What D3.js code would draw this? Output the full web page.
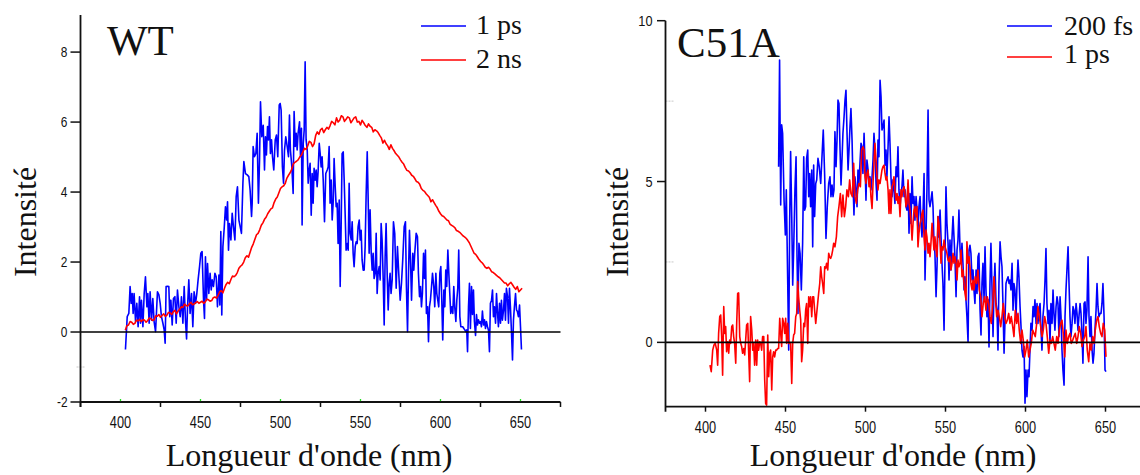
<!DOCTYPE html>
<html><head><meta charset="utf-8">
<script src="https://cdn.jsdelivr.net/npm/d3@7"></script>
<style>
html,body{margin:0;padding:0;background:#fff;}
svg{display:block;}
</style></head>
<body>
<script>
// ---------------- DATA ----------------
const xTicks = [400, 450, 500, 550, 600, 650];
const xMinorTicksWT = [375, 425, 475, 525, 575, 625, 675];
const yTicksWT = [-2, 0, 2, 4, 6, 8];
const yTicksC51A = [0, 5, 10];
const labelsWT = ["1 ps", "2 ns"];
const labelsC51A = ["200 fs", "1 ps"];
const xTitle = "Longueur d'onde (nm)";
const yTitle = "Intensité";

// WT, 1 ps  [wavelength nm, intensity]
const wt1ps = [[403.1,-0.50],[404.2,0.44],[405.2,0.53],[406.0,1.30],[406.7,0.82],[407.3,1.10],[407.9,0.53],[408.5,1.10],[409.4,0.30],[410.2,0.82],[411.0,0.15],[411.9,1.01],[412.5,0.25],[413.1,0.91],[414.0,0.15],[414.8,1.10],[415.6,1.58],[416.5,0.72],[417.1,1.10],[417.9,0.25],[418.5,1.15],[419.4,0.34],[420.2,0.96],[421.0,0.30],[421.9,0.01],[423.1,1.15],[424.0,1.06],[424.8,0.82],[425.6,0.44],[426.5,0.25],[427.3,0.06],[427.9,-0.32],[428.5,1.30],[429.4,1.31],[430.2,1.30],[430.8,0.44],[431.5,0.91],[432.3,0.20],[433.1,0.96],[434.0,1.01],[434.8,0.25],[435.6,1.20],[436.5,0.72],[437.3,0.44],[438.1,1.01],[439.0,0.25],[439.8,1.30],[440.6,0.34],[441.3,-0.20],[441.9,0.72],[442.7,1.49],[443.5,0.53],[444.4,1.10],[445.2,0.15],[446.0,1.15],[446.9,0.82],[447.7,1.10],[448.5,1.49],[449.4,1.87],[450.2,2.25],[451.0,2.30],[451.9,0.91],[452.5,0.39],[453.1,2.15],[453.8,0.91],[454.4,1.96],[455.2,1.10],[456.0,1.68],[456.7,1.20],[457.3,1.49],[458.1,1.30],[459.0,1.68],[459.8,1.58],[460.6,0.72],[461.5,1.63],[462.1,0.77],[462.7,2.87],[463.3,0.49],[464.0,2.44],[464.8,2.96],[465.6,3.58],[466.3,3.20],[466.9,3.72],[467.5,2.34],[468.1,3.10],[469.0,2.63],[469.8,3.39],[470.6,3.01],[471.5,2.63],[472.3,3.87],[473.1,4.15],[474.0,3.20],[474.8,3.01],[475.6,2.82],[476.5,4.25],[477.1,4.87],[478.1,4.53],[479.2,4.49],[480.2,4.44],[481.0,4.06],[481.9,3.30],[482.3,3.68],[482.9,5.30],[483.7,5.01],[484.6,5.10],[485.4,5.68],[486.2,3.68],[486.9,4.91],[487.5,6.58],[488.3,5.58],[489.2,5.91],[490.0,4.63],[490.6,5.58],[491.2,5.06],[491.9,5.87],[492.5,5.49],[493.1,6.15],[493.7,5.10],[494.4,5.49],[495.0,5.01],[495.8,4.63],[496.7,5.49],[497.5,5.63],[498.3,5.01],[499.2,6.49],[499.8,6.53],[500.4,6.34],[501.2,4.72],[501.9,4.25],[502.5,5.20],[503.3,5.58],[504.2,5.30],[505.0,5.01],[505.6,6.20],[506.2,5.20],[507.1,4.72],[507.9,3.96],[508.5,6.30],[509.2,5.30],[509.8,5.68],[510.4,5.20],[511.0,5.68],[511.9,6.01],[512.5,5.01],[513.1,5.82],[513.5,3.06],[514.2,5.39],[514.8,5.77],[515.4,7.72],[516.0,5.49],[516.7,5.20],[517.3,4.25],[517.9,4.63],[518.5,4.82],[519.2,3.34],[519.8,4.53],[520.4,3.68],[521.0,4.68],[521.7,4.34],[522.3,4.63],[522.9,4.15],[523.5,4.58],[524.2,5.39],[524.8,5.10],[525.4,4.72],[526.0,5.01],[526.7,4.34],[527.5,3.15],[528.3,4.53],[529.2,4.63],[529.8,4.72],[530.4,5.30],[531.0,3.68],[531.7,4.34],[532.3,3.20],[533.0,3.77],[533.5,4.96],[534.2,4.15],[534.8,3.58],[535.4,3.68],[536.0,2.53],[536.7,3.77],[537.3,1.30],[537.9,3.01],[538.5,5.10],[539.2,5.15],[539.8,4.34],[540.4,3.39],[541.0,2.34],[541.7,2.53],[542.3,2.34],[542.9,4.25],[543.5,2.82],[544.2,2.63],[544.8,3.15],[545.4,2.25],[546.0,1.87],[546.7,2.44],[547.3,2.58],[547.9,2.53],[548.5,3.01],[549.2,3.20],[549.8,2.63],[550.4,2.91],[551.0,2.06],[551.7,1.77],[552.3,1.77],[552.9,2.44],[553.5,3.87],[554.2,5.15],[554.8,3.77],[555.4,2.25],[556.0,3.49],[556.7,2.25],[557.3,1.77],[557.9,2.25],[558.5,1.53],[559.2,1.68],[559.8,2.82],[560.4,1.10],[561.0,1.68],[561.7,1.87],[562.3,1.49],[562.9,3.10],[563.5,2.63],[564.2,1.49],[564.8,0.20],[565.4,2.15],[566.0,3.10],[566.7,1.60],[567.3,0.63],[567.9,1.39],[568.5,1.68],[569.1,1.10],[569.8,1.49],[570.6,3.15],[571.4,2.82],[572.3,1.25],[573.1,2.44],[573.9,1.68],[574.8,0.91],[575.6,1.39],[576.4,2.06],[577.3,3.01],[578.1,3.15],[578.7,1.30],[579.4,0.01],[580.0,1.68],[580.6,2.91],[581.2,2.15],[581.9,0.91],[582.7,2.25],[583.3,1.77],[583.9,2.25],[584.8,2.82],[585.6,2.72],[586.2,1.68],[586.9,1.01],[587.5,1.30],[588.1,0.72],[588.7,1.10],[589.4,2.25],[590.0,1.53],[590.6,2.34],[591.2,0.53],[591.9,0.72],[592.5,-0.28],[593.1,0.72],[593.7,0.91],[594.4,1.30],[595.0,1.68],[595.8,1.30],[596.4,0.72],[597.1,1.68],[597.7,1.10],[598.3,0.91],[598.9,0.72],[599.6,1.68],[600.2,1.87],[600.8,0.91],[601.4,-0.23],[602.1,1.20],[602.7,0.72],[603.3,1.77],[603.9,1.30],[604.6,2.34],[605.2,1.68],[605.8,1.10],[606.4,0.53],[607.1,0.72],[607.7,0.53],[608.3,1.30],[608.9,0.72],[609.6,0.30],[610.2,0.91],[610.8,1.25],[611.4,2.34],[612.1,0.44],[612.7,0.15],[613.3,0.15],[613.9,0.15],[614.6,0.10],[615.2,0.06],[615.8,0.01],[616.4,0.06],[616.9,-0.56],[617.5,0.72],[618.1,1.39],[618.7,0.10],[619.4,1.30],[620.0,0.50],[620.6,1.20],[621.2,0.30],[621.9,-0.10],[622.5,0.50],[623.1,0.20],[623.7,0.35],[624.4,0.25],[625.0,0.30],[625.6,0.15],[626.2,0.60],[626.9,0.20],[627.5,0.35],[628.1,0.10],[628.7,0.30],[629.4,0.15],[630.0,0.05],[630.6,-0.56],[631.2,0.82],[631.9,0.91],[632.5,1.20],[633.1,0.44],[633.7,0.72],[634.4,0.25],[635.0,1.10],[635.6,0.58],[636.2,0.15],[636.9,0.82],[637.5,0.25],[638.1,0.91],[638.7,0.34],[639.4,0.63],[640.0,1.10],[640.6,0.34],[641.2,1.25],[641.9,1.01],[642.5,0.25],[643.1,1.25],[643.7,0.72],[644.4,-0.04],[645.0,-0.80],[645.6,0.34],[646.2,0.72],[646.9,1.10],[647.5,0.63],[648.1,0.58],[648.7,0.44],[649.4,0.77],[650.0,0.15],[650.6,-0.50]];

// WT, 2 ns
const wt2ns = [[403,0.05],[404,0.18],[405,0.20],[406,0.30],[407,0.28],[408,0.22],[409,0.25],[410,0.34],[411,0.32],[412,0.36],[413,0.30],[414,0.35],[415,0.34],[416,0.28],[417,0.33],[418,0.40],[419,0.38],[420,0.33],[421,0.35],[422,0.46],[423,0.45],[424,0.50],[425,0.42],[426,0.47],[427,0.52],[428,0.45],[429,0.48],[430,0.56],[431,0.55],[432,0.50],[433,0.58],[434,0.62],[435,0.52],[436,0.60],[437,0.65],[438,0.72],[439,0.70],[440,0.80],[441,0.76],[442,0.74],[443,0.80],[444,0.85],[445,0.78],[446,0.80],[447,0.84],[448,0.87],[449,0.82],[450,0.85],[451,0.88],[452,0.82],[453,0.86],[454,0.94],[455,0.92],[456,0.88],[457,0.90],[458,0.98],[459,1.00],[460,0.97],[461,1.05],[462,1.15],[463,1.18],[464,1.12],[465,1.25],[466,1.36],[467,1.42],[468,1.38],[469,1.50],[470,1.60],[471,1.58],[472,1.62],[473,1.70],[474,1.82],[475,1.88],[476,1.92],[477,2.00],[478,2.12],[479,2.18],[480,2.14],[481,2.28],[482,2.42],[483,2.52],[484,2.65],[485,2.78],[486,2.82],[487,2.92],[488,3.05],[489,3.12],[490,3.22],[491,3.28],[492,3.38],[493,3.45],[494,3.52],[495,3.55],[496,3.70],[497,3.80],[498,3.86],[499,3.98],[500,4.10],[501,4.15],[502,4.18],[503,4.25],[504,4.40],[505,4.48],[506,4.55],[507,4.65],[508,4.80],[509,4.85],[510,4.88],[511,4.92],[512,5.00],[513,5.05],[514,5.15],[515,5.25],[516,5.22],[517,5.32],[518,5.45],[519,5.42],[520,5.30],[521,5.38],[522,5.62],[523,5.72],[524,5.65],[525,5.78],[526,5.82],[527,5.70],[528,5.78],[529,5.85],[530,5.80],[531,5.90],[532,6.02],[533,5.98],[534,5.92],[535,6.12],[536,6.00],[537,6.05],[538,6.18],[539,6.15],[540,6.02],[541,6.08],[542,6.15],[543,6.12],[544,5.98],[545,6.05],[546,6.12],[547,6.15],[548,6.00],[549,6.02],[550,5.92],[551,6.05],[552,5.98],[553,5.90],[554,5.85],[555,5.95],[556,5.88],[557,5.85],[558,5.72],[559,5.78],[560,5.75],[561,5.70],[562,5.62],[563,5.55],[564,5.40],[565,5.48],[566,5.38],[567,5.32],[568,5.22],[569,5.35],[570,5.25],[571,5.18],[572,5.10],[573,5.05],[574,5.00],[575,4.92],[576,4.85],[577,4.80],[578,4.70],[579,4.62],[580,4.60],[581,4.55],[582,4.48],[583,4.45],[584,4.38],[585,4.30],[586,4.28],[587,4.22],[588,4.10],[589,4.05],[590,4.02],[591,3.95],[592,3.90],[593,3.85],[594,3.72],[595,3.78],[596,3.70],[597,3.62],[598,3.55],[599,3.45],[600,3.38],[601,3.32],[602,3.30],[603,3.25],[604,3.20],[605,3.18],[606,3.08],[607,3.05],[608,3.02],[609,2.98],[610,2.90],[611,2.88],[612,2.85],[613,2.80],[614,2.75],[615,2.72],[616,2.68],[617,2.62],[618,2.55],[619,2.45],[620,2.35],[621,2.25],[622,2.22],[623,2.15],[624,2.08],[625,2.02],[626,1.98],[627,1.92],[628,1.85],[629,1.82],[630,1.85],[631,1.80],[632,1.72],[633,1.70],[634,1.66],[635,1.62],[636,1.58],[637,1.55],[638,1.50],[639,1.45],[640,1.40],[641,1.40],[642,1.32],[643,1.38],[644,1.42],[645,1.35],[646,1.28],[647,1.22],[648,1.30],[649,1.15],[650,1.20],[651,1.25]];

// C51A, 200 fs
const c51a200fs = [[445.7,5.46],[446.3,8.78],[447.0,4.27],[447.6,6.76],[448.2,6.50],[449.1,4.42],[449.9,3.34],[450.5,4.74],[451.4,1.83],[452.0,-0.24],[452.6,3.70],[453.2,5.93],[453.9,3.91],[454.5,1.78],[455.1,2.87],[455.9,4.74],[456.6,5.77],[457.2,2.66],[457.8,0.90],[458.4,3.08],[459.1,2.77],[459.9,1.63],[460.7,3.08],[461.4,5.77],[462.0,4.11],[462.6,4.22],[463.2,5.72],[463.9,5.98],[464.5,4.53],[465.1,5.25],[465.7,4.22],[466.4,5.36],[467.0,2.97],[467.6,5.51],[468.2,3.91],[468.9,4.94],[469.5,5.05],[470.3,5.72],[471.1,5.46],[472.0,4.94],[472.8,5.77],[473.6,6.60],[474.5,5.15],[475.3,3.23],[476.1,4.22],[477.0,4.94],[477.8,5.15],[478.4,4.53],[479.1,4.89],[479.7,4.53],[480.3,4.74],[480.9,6.55],[481.6,5.46],[482.2,6.29],[482.8,7.53],[483.4,7.43],[484.1,5.98],[484.7,4.89],[485.3,5.67],[485.9,6.50],[486.6,7.01],[487.2,7.53],[487.8,7.84],[488.4,6.60],[489.1,5.36],[489.7,5.98],[490.3,6.70],[490.9,7.27],[491.6,6.29],[492.2,4.94],[492.8,3.96],[493.4,5.15],[494.1,4.74],[494.7,4.22],[495.3,5.36],[495.9,4.94],[496.6,5.63],[497.2,6.19],[497.8,6.08],[498.4,5.25],[499.1,6.50],[499.7,5.57],[500.3,4.42],[500.9,5.67],[501.6,5.36],[502.2,4.94],[502.8,5.15],[503.4,4.74],[504.1,5.15],[504.7,5.67],[505.3,6.50],[505.9,5.98],[506.6,4.94],[507.2,4.42],[507.8,6.29],[508.4,5.77],[509.1,8.15],[509.7,7.64],[510.3,6.60],[510.9,6.70],[511.6,6.91],[512.2,5.51],[512.8,5.98],[513.4,5.15],[514.1,6.08],[514.7,7.01],[515.3,6.19],[515.9,5.15],[516.6,4.53],[517.2,5.05],[517.8,4.74],[518.4,4.32],[519.1,5.46],[519.7,5.15],[520.3,6.08],[520.9,4.74],[521.6,4.22],[522.2,4.63],[522.8,4.84],[523.4,5.36],[524.1,4.53],[524.7,4.74],[525.3,4.22],[525.9,4.11],[526.6,4.94],[527.2,3.39],[527.8,4.63],[528.4,3.70],[529.1,5.15],[529.7,4.32],[530.3,4.53],[530.9,3.80],[531.6,4.53],[532.2,4.11],[532.8,3.49],[533.4,4.22],[534.1,4.53],[534.7,3.70],[535.3,3.28],[535.9,3.91],[536.6,5.25],[537.2,1.94],[537.8,3.28],[538.4,4.74],[539.1,7.22],[539.7,4.42],[540.3,4.22],[540.9,4.42],[541.6,4.68],[542.2,4.22],[542.8,3.08],[543.4,2.77],[544.1,1.42],[544.7,2.35],[545.3,3.91],[545.9,3.28],[546.6,4.11],[547.2,3.28],[547.8,2.46],[548.4,1.83],[549.1,0.38],[549.7,2.66],[550.3,4.84],[550.9,3.70],[551.6,3.08],[552.2,1.94],[552.8,3.18],[553.4,2.25],[554.1,3.28],[554.7,3.91],[555.3,3.28],[555.9,2.66],[556.6,1.42],[557.2,2.87],[557.8,3.18],[558.4,4.11],[559.1,2.87],[559.7,2.46],[560.3,3.08],[560.9,2.46],[561.6,1.63],[562.2,2.04],[562.8,1.32],[563.4,0.80],[564.1,0.01],[564.7,2.87],[565.3,3.02],[565.9,2.77],[566.6,1.94],[567.2,2.25],[567.8,1.63],[568.4,1.21],[569.1,2.25],[569.7,1.52],[570.3,2.66],[570.9,2.77],[571.6,1.00],[572.2,0.23],[572.8,1.83],[573.4,2.46],[574.1,1.32],[574.7,2.97],[575.3,1.63],[575.9,0.80],[576.6,1.32],[577.2,-0.14],[577.8,1.83],[578.4,3.08],[579.1,1.63],[579.7,0.18],[580.3,1.63],[580.9,2.46],[581.6,1.21],[582.2,1.00],[582.8,-0.24],[583.4,1.83],[584.1,3.13],[584.7,2.66],[585.3,2.35],[585.9,1.21],[586.6,-0.34],[587.2,0.69],[587.8,1.83],[588.4,1.94],[589.1,2.04],[589.7,1.83],[590.3,1.94],[590.9,1.63],[591.6,2.46],[592.2,1.00],[592.8,1.83],[593.4,1.63],[594.1,0.80],[594.7,1.83],[595.3,2.56],[595.9,2.04],[596.6,1.11],[597.2,0.49],[597.8,-0.24],[598.4,-0.45],[599.1,-0.13],[599.7,-1.89],[600.3,-0.86],[600.9,-1.69],[601.6,-0.86],[602.2,-1.07],[602.8,-0.24],[603.4,0.59],[604.1,0.38],[604.7,1.11],[605.3,0.80],[605.9,1.32],[606.6,0.59],[607.2,1.21],[607.8,0.59],[608.4,1.00],[609.1,1.21],[609.7,0.38],[610.3,-0.24],[610.9,0.80],[611.6,1.21],[612.2,1.94],[612.8,2.92],[613.4,1.21],[614.1,0.59],[614.7,1.00],[615.3,-0.03],[615.9,1.21],[616.6,0.59],[617.2,1.63],[617.8,0.90],[618.4,0.38],[619.1,1.11],[619.7,1.42],[620.3,1.21],[620.9,0.18],[621.6,1.42],[622.2,0.80],[622.8,-0.24],[623.4,-0.86],[624.1,-1.33],[624.7,0.80],[625.3,1.63],[625.9,2.25],[626.6,2.97],[627.2,1.83],[627.8,0.80],[628.4,0.18],[629.1,0.59],[629.7,1.11],[630.3,1.00],[630.9,0.59],[631.6,1.21],[632.2,0.90],[632.8,0.38],[633.4,0.80],[634.1,1.21],[634.7,0.90],[635.3,0.28],[635.9,-0.65],[636.6,1.21],[637.2,1.26],[637.8,0.59],[638.4,1.00],[639.1,2.66],[639.7,0.80],[640.3,0.18],[640.9,0.80],[641.6,-0.24],[642.2,-0.65],[642.8,-0.34],[643.4,0.38],[644.1,1.00],[644.7,1.83],[645.3,1.11],[645.9,0.80],[646.6,0.90],[647.2,0.90],[647.8,1.21],[648.4,1.83],[649.1,0.80],[649.7,-0.86],[650.3,-0.91]];

// C51A, 1 ps
const c51a1ps = [[402.8,-0.71],[403.6,-0.91],[404.5,-0.24],[405.3,-0.08],[406.1,-0.03],[407.0,-0.24],[407.6,-0.71],[408.2,0.28],[408.9,0.80],[409.5,0.85],[410.1,0.18],[410.7,-1.02],[411.4,1.11],[412.0,0.28],[412.6,0.49],[413.2,-0.29],[413.9,0.02],[414.5,-0.34],[415.1,0.07],[415.7,-0.03],[416.4,0.49],[417.0,0.54],[417.6,0.18],[418.2,-0.03],[418.9,-0.65],[419.5,0.59],[420.1,1.52],[420.7,1.54],[421.4,0.18],[422.0,-0.03],[422.6,-0.13],[423.2,-0.34],[423.9,-0.19],[424.5,-0.39],[425.1,0.07],[425.7,0.54],[426.4,0.59],[427.0,-0.34],[427.6,-1.22],[428.2,0.80],[428.9,0.38],[429.5,-0.24],[430.1,-0.03],[430.7,-0.71],[431.4,0.07],[432.0,-0.71],[432.6,0.07],[433.2,-0.24],[433.9,0.02],[434.5,-0.03],[435.1,-0.24],[435.7,0.18],[436.4,0.18],[437.0,-1.17],[437.6,-1.90],[438.2,-1.95],[438.9,0.23],[439.5,-1.07],[440.1,-0.34],[440.7,-0.24],[441.4,-1.48],[442.0,-0.45],[442.6,-0.29],[443.2,-0.45],[443.9,-0.24],[444.5,-0.24],[445.1,-0.19],[445.7,-0.19],[446.4,0.75],[447.0,0.28],[447.6,-0.13],[448.2,0.75],[448.9,0.59],[449.5,0.28],[450.1,0.75],[450.7,-0.03],[451.4,0.59],[452.0,-0.03],[452.6,-0.03],[453.2,-0.03],[453.9,-1.28],[454.5,-0.03],[455.1,0.23],[455.7,0.28],[456.4,0.80],[457.0,0.90],[457.6,1.89],[458.2,1.42],[458.9,1.00],[459.5,0.69],[460.1,-0.60],[460.7,-0.24],[461.4,0.59],[462.0,0.49],[462.6,1.00],[463.2,1.21],[463.9,-0.03],[464.5,1.42],[465.1,1.11],[465.7,1.42],[466.4,0.80],[467.0,1.42],[467.6,1.42],[468.2,1.00],[468.9,0.59],[469.5,0.90],[470.1,1.21],[470.7,1.52],[471.4,1.83],[472.0,2.35],[472.6,2.04],[473.2,1.83],[473.9,1.52],[474.5,2.35],[475.1,2.30],[475.7,2.46],[476.4,2.25],[477.0,2.77],[477.6,2.66],[478.2,2.61],[478.9,2.71],[479.5,2.87],[480.1,3.08],[480.9,2.97],[481.8,3.28],[482.6,3.91],[483.4,4.22],[484.3,4.63],[485.1,3.91],[485.9,4.58],[486.8,3.91],[487.6,4.22],[488.4,4.74],[489.3,4.53],[490.1,5.05],[490.9,4.63],[491.8,4.53],[492.6,5.57],[493.4,4.53],[494.3,4.32],[495.1,4.74],[495.9,4.94],[496.8,4.84],[497.6,5.98],[498.4,6.08],[499.1,5.98],[499.7,5.15],[500.3,4.94],[500.9,5.25],[501.6,5.36],[502.2,4.84],[502.8,5.10],[503.4,4.53],[504.1,4.16],[504.7,4.94],[505.3,5.57],[505.9,6.19],[506.6,5.67],[507.2,5.15],[507.8,4.74],[508.4,5.05],[509.1,4.94],[509.7,5.15],[510.3,5.36],[510.9,5.46],[511.6,5.51],[512.2,5.25],[512.8,5.05],[513.4,5.15],[514.1,4.74],[514.7,4.01],[515.3,4.74],[515.9,4.01],[516.6,4.84],[517.2,4.94],[517.8,5.15],[518.4,4.74],[519.1,4.42],[519.7,4.63],[520.3,4.32],[520.9,4.53],[521.6,3.91],[522.2,4.74],[522.8,4.53],[523.4,4.74],[524.1,4.84],[524.7,4.63],[525.3,4.22],[525.9,4.32],[526.6,5.05],[527.2,4.32],[527.8,4.11],[528.4,3.80],[529.1,3.18],[529.7,3.70],[530.3,4.11],[530.9,4.22],[531.6,3.91],[532.2,4.22],[532.8,2.97],[533.4,3.39],[534.1,3.70],[534.7,3.80],[535.3,4.01],[535.9,4.11],[536.6,3.28],[537.2,2.87],[537.8,3.49],[538.4,3.28],[539.1,2.77],[539.7,3.08],[540.3,2.66],[540.9,3.08],[541.6,3.70],[542.2,3.28],[542.8,2.87],[543.4,3.28],[544.1,2.87],[544.7,2.66],[545.3,3.91],[545.9,3.70],[546.6,3.08],[547.2,2.46],[547.8,2.97],[548.4,2.87],[549.1,3.18],[549.7,2.97],[550.3,2.87],[550.9,2.77],[551.6,2.56],[552.2,2.51],[552.8,2.66],[553.4,2.25],[554.1,2.46],[554.7,2.77],[555.3,2.46],[555.9,2.66],[556.6,2.46],[557.2,1.94],[557.8,2.56],[558.4,2.35],[559.1,2.46],[559.7,2.87],[560.3,2.04],[560.9,2.25],[561.6,1.83],[562.2,1.52],[562.8,1.32],[563.4,3.13],[564.1,2.46],[564.7,2.66],[565.3,2.35],[565.9,1.83],[566.6,1.63],[567.2,1.94],[567.8,1.63],[568.6,2.04],[569.5,1.83],[570.3,2.25],[571.1,1.63],[572.0,1.42],[572.8,0.80],[573.6,1.21],[574.5,1.42],[575.3,1.00],[576.1,1.42],[577.0,1.21],[577.8,0.80],[578.6,0.59],[579.5,1.21],[580.3,2.04],[581.1,1.42],[582.0,0.80],[582.8,1.00],[583.6,0.80],[584.5,0.49],[585.3,0.80],[586.1,1.21],[587.0,0.80],[587.8,0.59],[588.6,0.69],[589.5,0.90],[590.3,0.59],[591.1,0.80],[592.0,0.49],[592.8,0.18],[593.6,1.00],[594.5,0.59],[595.3,0.90],[596.1,0.38],[597.0,-0.03],[597.8,0.38],[598.6,0.07],[599.5,-0.45],[600.3,-0.24],[601.1,0.07],[602.0,-0.45],[602.8,-0.24],[603.6,-0.03],[604.5,0.38],[605.3,0.28],[606.1,0.18],[607.0,0.59],[607.8,1.11],[608.6,0.80],[609.5,0.49],[610.3,0.18],[611.1,0.38],[612.0,0.80],[612.8,0.59],[613.6,0.18],[614.5,-0.34],[615.3,0.07],[616.1,-0.03],[617.0,0.18],[617.8,-0.03],[618.6,-0.24],[619.5,0.18],[620.3,-0.03],[621.1,0.38],[622.0,0.59],[622.8,0.69],[623.6,0.28],[624.5,-0.45],[625.3,0.38],[626.1,-0.03],[627.0,0.18],[627.8,0.28],[628.6,-0.03],[629.5,0.07],[630.3,0.18],[631.1,0.28],[632.0,-0.03],[632.8,0.18],[633.6,0.49],[634.5,0.28],[635.3,-0.13],[636.1,0.07],[637.0,0.18],[637.8,0.49],[638.6,-0.24],[639.5,-0.60],[640.3,-0.03],[641.1,-0.24],[642.0,0.18],[642.8,-0.03],[643.6,0.38],[644.5,0.69],[645.3,0.80],[646.1,0.49],[647.0,0.28],[647.8,0.18],[648.6,0.59],[649.5,0.38],[650.3,-0.45]];

// ---------------- DRAW ----------------
const W = 1140, H = 475;
const svg = d3.select("body").append("svg").attr("width", W).attr("height", H);

const BLUE = "#0000ff", RED = "#ff0000";
const serif = "'Liberation Serif','Times New Roman',serif";
const sans = "'Liberation Sans',Arial,sans-serif";

function panel(opts) {
  const g = svg.append("g");
  const x = d3.scaleLinear().domain([375, 675]).range(opts.xr);
  const y = d3.scaleLinear().domain(opts.yd).range(opts.yr);
  const x0 = opts.xr[0], x1 = Math.min(opts.xr[1], W);
  const yb = y(opts.yd[0]), yt = y(opts.yd[1]);

  // faint minor marks
  (opts.grayMarks || []).forEach(v => {
    g.append("line").attr("x1", x0 + opts.grayDx[0]).attr("x2", x0 + opts.grayDx[1])
      .attr("y1", y(v)).attr("y2", y(v))
      .attr("stroke", "#c8c8c8").attr("stroke-width", 1).attr("stroke-dasharray", "2,1");
  });

  // data lines
  const line = d3.line().x(d => x(d[0])).y(d => y(d[1]));
  g.append("path").datum(opts.s1).attr("d", line).attr("fill", "none")
    .attr("stroke", BLUE).attr("stroke-width", 1.6).attr("stroke-linejoin", "round");
  g.append("path").datum(opts.s2).attr("d", line).attr("fill", "none")
    .attr("stroke", RED).attr("stroke-width", 1.6).attr("stroke-linejoin", "round");

  // zero line
  g.append("line").attr("x1", x0).attr("x2", x1).attr("y1", y(0)).attr("y2", y(0))
    .attr("stroke", "#000").attr("stroke-width", 1.6);

  // axis lines
  g.append("line").attr("x1", x0).attr("x2", x0).attr("y1", yt).attr("y2", yb + 5)
    .attr("stroke", "#111").attr("stroke-width", 1.8);
  g.append("line").attr("x1", x0).attr("x2", x1).attr("y1", yb).attr("y2", yb)
    .attr("stroke", "#111").attr("stroke-width", 1.8);

  // x ticks
  opts.xTickDown.forEach(t => {
    g.append("line").attr("x1", x(t)).attr("x2", x(t)).attr("y1", yb).attr("y2", yb + 5)
      .attr("stroke", "#111").attr("stroke-width", 1.5);
  });
  (opts.greenTicks || []).forEach(t => {
    g.append("line").attr("x1", x(t)).attr("x2", x(t)).attr("y1", yb - 3).attr("y2", yb - 0.9)
      .attr("stroke", "#22dd22").attr("stroke-width", 1.3);
  });
  xTicks.forEach(t => {
    g.append("text").attr("transform", `translate(${x(t)},${yb + 26}) scale(0.8,1)`)
      .attr("text-anchor", "middle").attr("font-family", sans).attr("font-size", 16)
      .attr("fill", "#111").text(t);
  });

  // y ticks
  opts.yTicks.forEach(t => {
    g.append("line").attr("x1", x0 - opts.yTickLen).attr("x2", x0).attr("y1", y(t)).attr("y2", y(t))
      .attr("stroke", "#111").attr("stroke-width", 1.5);
    g.append("text").attr("transform", `translate(${x0 - opts.yLabelGap},${y(t) + 5}) scale(0.85,1)`)
      .attr("text-anchor", "end").attr("font-family", sans).attr("font-size", opts.yFont)
      .attr("fill", "#111").text(t);
  });

  // titles
  g.append("text").attr("x", opts.xTitleX).attr("y", 466).attr("text-anchor", "middle")
    .attr("font-family", serif).attr("font-size", 32).attr("fill", "#111").text(xTitle);
  g.append("text").attr("transform", `translate(${opts.yTitleX},222) rotate(-90)`)
    .attr("text-anchor", "middle").attr("font-family", serif).attr("font-size", 32)
    .attr("fill", "#111").text(yTitle);
  g.append("text").attr("x", opts.nameX).attr("y", opts.nameY)
    .attr("font-family", serif).attr("font-size", 43).attr("fill", "#111").text(opts.name);

  // legend
  const lg = opts.legend;
  [BLUE, RED].forEach((c, i) => {
    g.append("line").attr("x1", lg.x1).attr("x2", lg.x2).attr("y1", lg.ly[i]).attr("y2", lg.ly[i])
      .attr("stroke", c).attr("stroke-width", 1.6);
    g.append("text").attr("x", lg.tx).attr("y", lg.ty[i]).attr("font-family", serif)
      .attr("font-size", 28).attr("fill", "#111").text(lg.labels[i]);
  });
}

panel({
  xr: [80.5, 560.5], yd: [-2, 9.06], yr: [402, 15],
  s1: wt1ps, s2: wt2ns,
  xTickDown: xMinorTicksWT, greenTicks: xTicks,
  yTicks: yTicksWT, yTickLen: 10, yLabelGap: 13, yFont: 14,
  grayMarks: [-1], grayDx: [-4, 4],
  xTitleX: 309, yTitleX: 36, name: "WT", nameX: 107, nameY: 55,
  legend: { x1: 421, x2: 466, ly: [26, 60], tx: 476, ty: [34, 68], labels: labelsWT }
});

panel({
  xr: [665.5, 1145.5], yd: [-2, 10], yr: [406.7, 20.7],
  s1: c51a200fs, s2: c51a1ps,
  xTickDown: xTicks, greenTicks: [],
  yTicks: yTicksC51A, yTickLen: 8.5, yLabelGap: 13, yFont: 15,
  grayMarks: [7.5, 2.5], grayDx: [0, 9],
  xTitleX: 893, yTitleX: 628, name: "C51A", nameX: 677, nameY: 57,
  legend: { x1: 1007, x2: 1052, ly: [26, 57], tx: 1064, ty: [35, 63], labels: labelsC51A }
});
</script>
</body></html>
